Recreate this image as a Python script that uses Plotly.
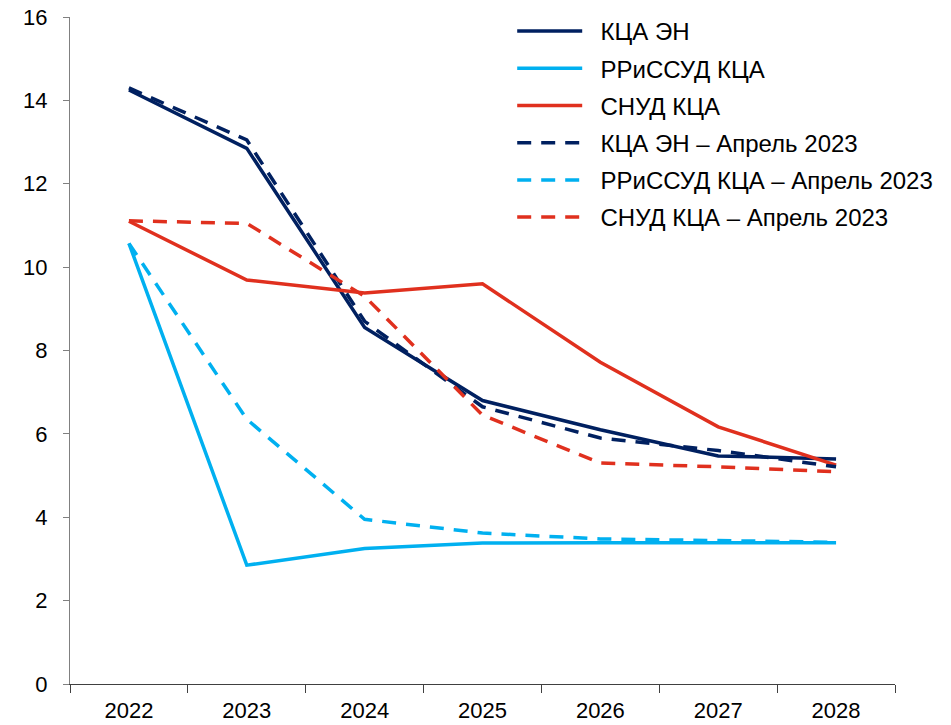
import plotly.graph_objects as go

years = ["2022", "2023", "2024", "2025", "2026", "2027", "2028"]

kca_en = [14.25, 12.85, 8.55, 6.8, 6.1, 5.47, 5.4]
rrissud = [10.57, 2.85, 3.25, 3.38, 3.39, 3.39, 3.39]
snud = [11.1, 9.69, 9.38, 9.6, 7.72, 6.17, 5.25]
kca_en_apr = [14.3, 13.05, 8.7, 6.65, 5.9, 5.6, 5.21]
rrissud_apr = [10.57, 6.35, 3.95, 3.62, 3.48, 3.44, 3.4]
snud_apr = [11.11, 11.05, 9.3, 6.45, 5.3, 5.21, 5.09]

names = ["КЦА ЭН", "РРиССУД КЦА", "СНУД КЦА",
         "КЦА ЭН – Апрель 2023", "РРиССУД КЦА – Апрель 2023", "СНУД КЦА – Апрель 2023"]
series = [kca_en, rrissud, snud, kca_en_apr, rrissud_apr, snud_apr]
colors = ["#002060", "#00B0F0", "#E0301E", "#002060", "#00B0F0", "#E0301E"]
dashes = ["solid", "solid", "solid", "14px,10px", "14px,10px", "14px,10px"]

fig = go.Figure()
for i, (n, s, c, d) in enumerate(zip(names, series, colors, dashes)):
    fig.add_trace(go.Scatter(x=years, y=s, name="  " + n, mode="lines",
                             legendgroup=f"g{i}",
                             line=dict(color=c, width=3.5, dash=d)))

fig.update_layout(
    width=951, height=725,
    margin=dict(l=70, r=56, t=17, b=41, autoexpand=False),
    paper_bgcolor="white", plot_bgcolor="white",
    font=dict(family="Liberation Sans, Arial, sans-serif", size=22, color="#000000"),
    showlegend=True,
    legend=dict(x=0.536, y=1.012, xanchor="left", yanchor="top",
                bgcolor="rgba(255,255,255,1)", font=dict(size=24),
                tracegroupgap=3, traceorder="grouped", itemwidth=65),
    xaxis=dict(type="category", showline=True, linecolor="#404040", linewidth=1,
               ticks="outside", tickson="boundaries", ticklen=8, tickcolor="#404040",
               showgrid=False, zeroline=False, range=[-0.5, 6.5], automargin=False,
               ticklabelstandoff=7, ticklabeloverflow="allow"),
    yaxis=dict(range=[0, 16], dtick=2, showline=True, linecolor="#808080", linewidth=1,
               ticks="outside", ticklen=6, tickcolor="#808080", showgrid=False,
               zeroline=False, ticklabelstandoff=11, automargin=False,
               ticklabeloverflow="allow"),
)

fig.write_html("out.html", config={"displayModeBar": False},
               post_script="document.body.style.margin='0';document.body.style.overflow='hidden';")
